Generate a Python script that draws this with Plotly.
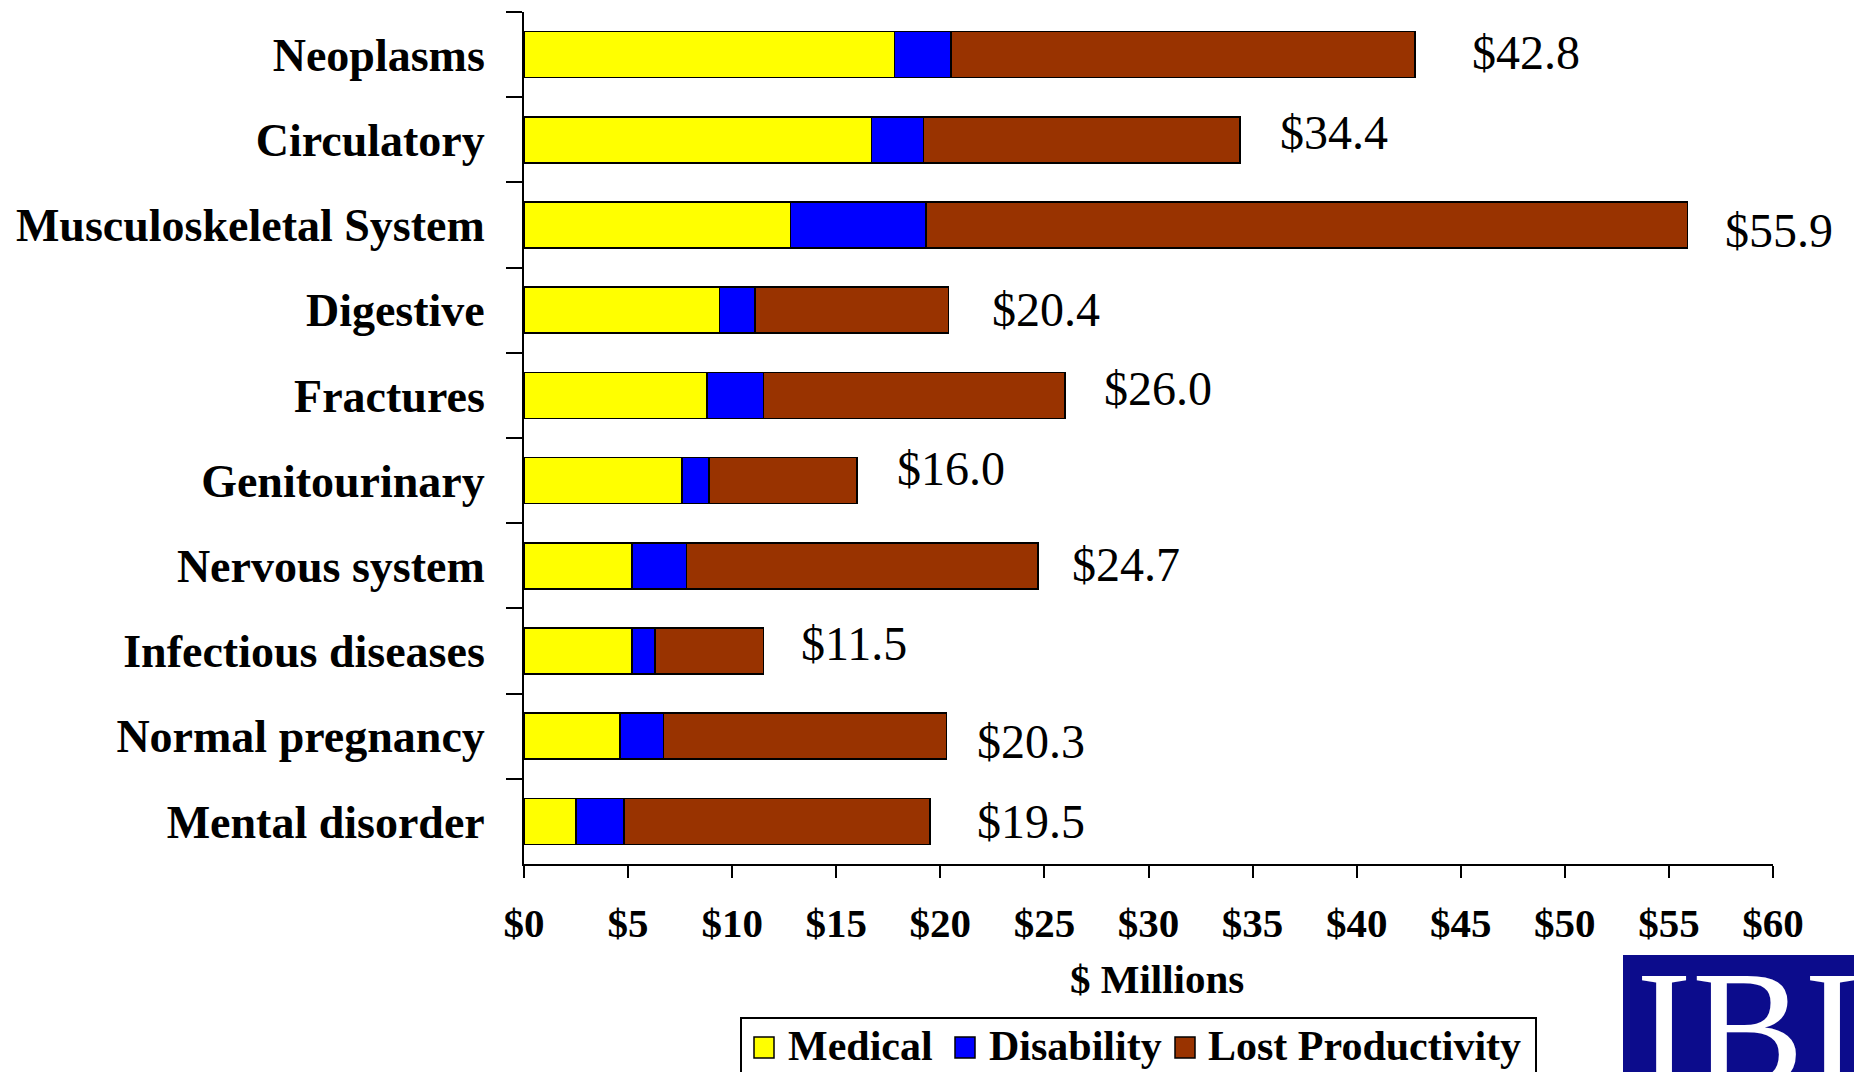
import plotly.graph_objects as go

# Cost by condition, $ millions (top to bottom as displayed)
categories = [
    "Neoplasms",
    "Circulatory",
    "Musculoskeletal System",
    "Digestive",
    "Fractures",
    "Genitourinary",
    "Nervous system",
    "Infectious diseases",
    "Normal pregnancy",
    "Mental disorder",
]
medical = [17.8, 16.7, 12.8, 9.4, 8.8, 7.6, 5.2, 5.2, 4.6, 2.5]
disability = [2.7, 2.5, 6.5, 1.7, 2.7, 1.3, 2.6, 1.1, 2.1, 2.3]
lost_productivity = [22.3, 15.2, 36.6, 9.3, 14.5, 7.1, 16.9, 5.2, 13.6, 14.7]

series_names = ["Medical", "Disability", "Lost Productivity"]
x_ticks = list(range(0, 61, 5))

totals = [round(m + d + l, 1) for m, d, l in zip(medical, disability, lost_productivity)]

# Layout geometry (pixels)
W, H = 1854, 1072
PL, PR, PT, PB = 524, 1773, 12, 864
SERIF = "Liberation Serif, Times New Roman, serif"
COLORS = ["#FFFF00", "#0000FF", "#993300"]


def px(x):
    return (x - PL) / (PR - PL)


def py(y):
    return (PB - y) / (PB - PT)


fig = go.Figure()
for name, vals, col in zip(series_names, [medical, disability, lost_productivity], COLORS):
    fig.add_trace(go.Bar(
        y=categories, x=vals, name=name, orientation="h",
        marker=dict(color=col, line=dict(color="black", width=1.6)),
        showlegend=False,
    ))

# Total labels placed to the right of each bar (hand-tuned offsets in px)
label_dx = [55, 38, 35, 41, 37, 38, 32, 36, 28, 45]
label_dy = [2, 7, -5, 1, 7, 12, 1, 8, -5, 0]
annotations = []
for cat, tot, dx, dy in zip(categories, totals, label_dx, label_dy):
    annotations.append(dict(
        x=tot, y=cat, xref="x", yref="y", text=f"${tot:.1f}",
        showarrow=False, xanchor="left", yanchor="middle",
        xshift=dx, yshift=dy,
        font=dict(family=SERIF, size=48, color="black"),
    ))

# Axis title
annotations.append(dict(
    x=px(1157), y=py(979), xref="paper", yref="paper", text="<b>$ Millions</b>",
    showarrow=False, xanchor="center", yanchor="middle",
    font=dict(family=SERIF, size=41, color="black"),
))

shapes = []
# Legend box with swatches
shapes.append(dict(type="rect", xref="paper", yref="paper",
                   x0=px(741), x1=px(1536), y0=py(1018), y1=py(1110),
                   line=dict(color="black", width=2), fillcolor="white", layer="above"))
legend_items = [(754, 786), (955, 987), (1175, 1206)]
for (sx, tx), name, col in zip(legend_items, series_names, COLORS):
    shapes.append(dict(type="rect", xref="paper", yref="paper",
                       x0=px(sx), x1=px(sx + 20), y0=py(1037), y1=py(1058),
                       line=dict(color="black", width=1.5), fillcolor=col, layer="above"))
    annotations.append(dict(
        x=px(tx), y=py(1046), xref="paper", yref="paper", text=f"<b>{name}</b>",
        showarrow=False, xanchor="left", yanchor="middle",
        font=dict(family=SERIF, size=42, color="black"),
    ))

# Logo block in the corner
shapes.append(dict(type="rect", xref="paper", yref="paper",
                   x0=px(1623), x1=px(1900), y0=py(955), y1=py(1120),
                   line=dict(width=0), fillcolor="#0c0c8c", layer="above"))
annotations.append(dict(
    x=px(1634), y=py(934), xref="paper", yref="paper", text="IBI",
    showarrow=False, xanchor="left", yanchor="top",
    font=dict(family=SERIF, size=168, color="white"),
))

fig.update_layout(
    width=W, height=H,
    margin=dict(l=PL, r=W - PR, t=PT, b=H - PB, pad=0),
    paper_bgcolor="white", plot_bgcolor="white",
    barmode="stack", bargap=0.46,
    annotations=annotations, shapes=shapes,
    showlegend=False,
)
fig.update_xaxes(
    range=[0, 60], tickvals=x_ticks, ticktext=[f"${v}" for v in x_ticks],
    showgrid=False, zeroline=False,
    showline=True, linecolor="black", linewidth=2,
    ticks="outside", ticklen=12, tickwidth=2, tickcolor="black",
    ticklabelstandoff=10,
    tickfont=dict(family=SERIF, size=41, color="black", weight="bold"),
)
fig.update_yaxes(
    categoryorder="array", categoryarray=categories, autorange="reversed",
    showgrid=False, zeroline=False,
    showline=True, linecolor="black", linewidth=2,
    ticks="outside", ticklen=16, tickwidth=2, tickcolor="black",
    tickson="boundaries", ticklabelstandoff=28,
    tickfont=dict(family=SERIF, size=46, color="black", weight="bold"),
)

fig.write_html("out.html")
